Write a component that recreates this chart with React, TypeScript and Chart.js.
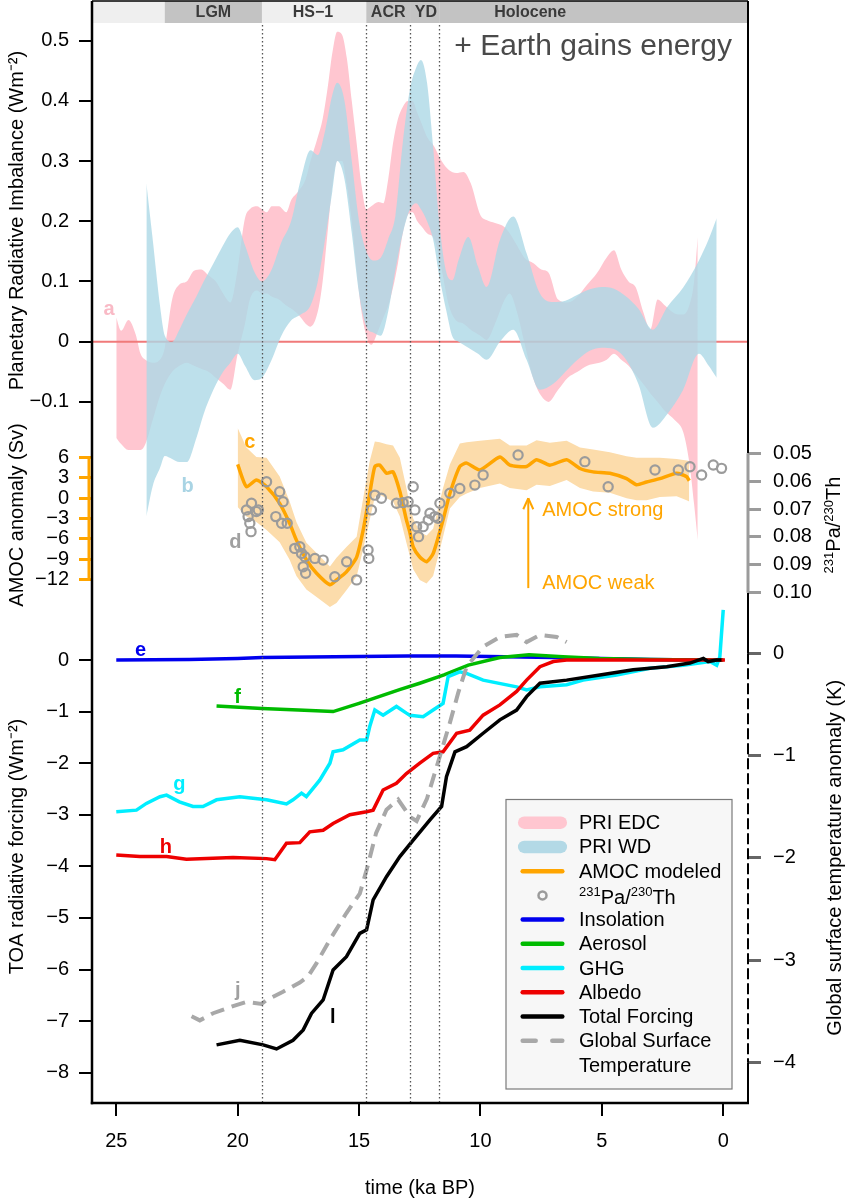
import React, { useEffect, useRef } from 'react';
import { Chart, registerables } from 'chart.js';

Chart.register(...registerables);

const FONT = '"Liberation Sans", Arial, Helvetica, sans-serif';

// ---------------- data (ages in ka BP) ----------------
// Planetary radiative imbalance, EDC reconstruction (band)
const edcAge = [25.0, 24.8, 24.5, 24.2, 24.0, 23.8, 23.5, 23.2, 23.0, 22.7,
  22.4, 22.1, 21.8, 21.5, 21.2, 20.9, 20.6, 20.3, 20.0, 19.7,
  19.5, 19.2, 19.0, 18.8, 18.6, 18.3, 18.0, 17.8, 17.5, 17.2,
  17.0, 16.7, 16.5, 16.3, 16.1, 15.9, 15.7, 15.5, 15.3, 15.1,
  14.9, 14.7, 14.5, 14.2, 14.0, 13.8, 13.6, 13.4, 13.2, 13.0,
  12.8, 12.6, 12.4, 12.2, 11.9, 11.6, 11.3, 11.0, 10.7, 10.4,
  10.0, 9.75, 9.4, 9.0, 8.8, 8.5, 8.2, 7.8, 7.5, 7.2,
  6.8, 6.4, 6.0, 5.6, 5.2, 4.8, 4.5, 4.2, 3.9, 3.6,
  3.3, 3.0, 2.7, 2.4, 2.0, 1.65, 1.4, 1.2, 1.05];
const edcHigh = [0.040, 0.018, 0.036, 0.012, -0.020, -0.030, -0.035, -0.030, -0.010, 0.070,
  0.095, 0.100, 0.118, 0.120, 0.110, 0.100, 0.080, 0.065, 0.120, 0.205,
  0.220, 0.225, 0.220, 0.215, 0.225, 0.225, 0.215, 0.235, 0.250, 0.270,
  0.300, 0.340, 0.370, 0.420, 0.480, 0.515, 0.510, 0.470, 0.400, 0.330,
  0.260, 0.220, 0.225, 0.232, 0.230, 0.270, 0.330, 0.370, 0.390, 0.400,
  0.400, 0.380, 0.360, 0.340, 0.324, 0.300, 0.285, 0.280, 0.282, 0.263,
  0.210, 0.202, 0.197, 0.190, 0.180, 0.160, 0.140, 0.130, 0.120, 0.115,
  0.070, 0.065, 0.075, 0.095, 0.114, 0.140, 0.152, 0.120, 0.100, 0.090,
  0.050, 0.020, 0.070, 0.060, 0.047, 0.045, 0.060, 0.100, 0.174];
const edcLow = [-0.160, -0.170, -0.180, -0.180, -0.180, -0.170, -0.130, -0.090, -0.070, -0.050,
  -0.040, -0.035, -0.040, -0.045, -0.050, -0.060, -0.070, -0.080, -0.020, 0.030,
  0.070, 0.085, 0.080, 0.080, 0.075, 0.070, 0.060, 0.055, 0.045, 0.030,
  0.025, 0.050, 0.100, 0.180, 0.260, 0.300, 0.300, 0.260, 0.200, 0.120,
  0.050, 0.010, -0.005, 0.020, 0.040, 0.060, 0.090, 0.130, 0.180, 0.210,
  0.215, 0.200, 0.190, 0.180, 0.170, 0.120, 0.060, 0.035, 0.030, 0.020,
  0.010, 0.003, 0.030, 0.070, 0.080, 0.050, 0.000, -0.064, -0.090, -0.100,
  -0.080, -0.060, -0.050, -0.040, -0.036, -0.030, -0.020, -0.030, -0.040, -0.055,
  -0.070, -0.086, -0.100, -0.115, -0.130, -0.150, -0.200, -0.270, -0.330];

// Planetary radiative imbalance, WD reconstruction (band)
const wdAge = [23.76, 23.5, 23.2, 23.0, 22.7, 22.4, 22.1, 21.7, 21.4, 21.0,
  20.6, 20.3, 20.0, 19.7, 19.3, 19.0, 18.6, 18.2, 17.8, 17.4,
  17.0, 16.7, 16.4, 16.1, 15.9, 15.6, 15.3, 15.0, 14.7, 14.4,
  14.1, 13.8, 13.5, 13.2, 12.9, 12.65, 12.45, 12.2, 11.95, 11.7,
  11.4, 11.15, 10.9, 10.5, 10.1, 9.75, 9.2, 8.65, 8.1, 7.55,
  7.0, 6.5, 6.0, 5.5, 5.0, 4.5, 4.0, 3.5, 2.9, 2.3,
  1.65, 1.0, 0.6, 0.27];
const wdHigh = [0.263, 0.170, 0.060, 0.010, 0.000, 0.020, 0.045, 0.075, 0.100, 0.130,
  0.160, 0.180, 0.190, 0.160, 0.115, 0.100, 0.120, 0.165, 0.200, 0.270,
  0.318, 0.310, 0.350, 0.410, 0.430, 0.400, 0.300, 0.200, 0.150, 0.135,
  0.140, 0.170, 0.210, 0.330, 0.420, 0.455, 0.468, 0.430, 0.324, 0.200,
  0.114, 0.102, 0.136, 0.174, 0.125, 0.091, 0.169, 0.208, 0.147, 0.080,
  0.066, 0.068, 0.078, 0.087, 0.091, 0.088, 0.075, 0.055, 0.020, 0.058,
  0.090, 0.135, 0.170, 0.205];
const wdLow = [-0.290, -0.240, -0.210, -0.190, -0.195, -0.200, -0.200, -0.160, -0.120, -0.080,
  -0.050, -0.035, -0.020, -0.040, -0.064, -0.060, -0.030, 0.010, 0.035, 0.045,
  0.060, 0.100, 0.170, 0.250, 0.300, 0.270, 0.180, 0.080, 0.025, 0.015,
  0.010, 0.050, 0.120, 0.180, 0.220, 0.230, 0.220, 0.200, 0.170, 0.110,
  0.050, 0.008, 0.000, -0.010, -0.020, -0.030, 0.000, 0.020, -0.030, -0.080,
  -0.070, -0.050, -0.030, -0.015, -0.010, -0.012, -0.030, -0.070, -0.143, -0.120,
  -0.080, -0.020, -0.040, -0.060];

const zeroAge = [26.0, -1.02];
const zeroLine = [0, 0];

// AMOC anomaly (Sv), modeled with uncertainty band
const amocAge = [20.0, 19.64, 19.23, 18.81, 18.27, 17.86, 17.58, 17.17, 16.75, 16.2,
  15.93, 15.52, 15.1, 14.83, 14.56, 14.35, 14.15, 13.87, 13.6, 13.32,
  13.05, 12.91, 12.77, 12.5, 12.22, 11.95, 11.54, 11.26, 10.85, 10.57,
  10.02, 9.2, 8.79, 8.1, 7.69, 7.14, 6.45, 5.9, 5.36, 4.67,
  3.98, 3.57, 3.16, 2.61, 1.92, 1.51, 1.4];
const amocModel = [5.0, 1.7, 2.7, 1.7, -0.75, -3.7, -6.2, -9.1, -11.1, -12.8,
  -12.1, -10.9, -8.7, -4.7, 0.7, 4.7, 4.9, 3.7, 3.9, 1.0,
  -3.2, -5.0, -7.2, -8.7, -9.4, -8.2, -3.2, 0.7, 4.7, 5.2,
  4.2, 6.1, 4.9, 4.7, 5.7, 4.9, 5.7, 4.4, 3.9, 3.7,
  2.9, 2.0, 2.4, 2.9, 3.7, 3.2, 2.6];
const amocLow = [-1.3, -2.7, -3.5, -4.7, -6.5, -9.1, -11.5, -13.5, -14.6, -16.1,
  -15.5, -13.6, -11.6, -7.5, -3.2, 0.2, 0.5, 0.0, -0.5, -2.7,
  -6.6, -8.5, -10.5, -12.1, -12.6, -11.5, -5.7, -1.5, 0.2, 0.7,
  1.5, 2.2, 1.5, 1.2, 2.0, 1.8, 2.7, 1.5, 1.0, 0.8,
  0.0, -0.3, -0.3, 0.2, 0.3, -0.3, -0.5];
const amocHigh = [10.4, 7.5, 6.1, 6.0, 3.2, -0.5, -3.5, -6.6, -8.1, -10.1,
  -8.8, -7.2, -5.7, 0.0, 5.5, 8.4, 8.3, 8.0, 7.8, 6.0,
  1.5, -1.0, -3.0, -5.0, -5.5, -4.5, 1.5, 5.0, 8.1, 8.3,
  8.5, 8.8, 7.8, 7.8, 8.6, 8.2, 8.5, 7.5, 7.2, 6.8,
  6.2, 6.0, 6.0, 6.0, 5.8, 5.6, 5.5];

// 231Pa/230Th proxy
const paAge = [19.64, 19.57, 19.50, 19.45, 19.43, 19.23, 19.15, 18.81, 18.43, 18.27,
  18.19, 18.13, 17.96, 17.65, 17.44, 17.37, 17.30, 17.23, 17.20, 16.82,
  16.48, 16.00, 15.51, 15.10, 14.63, 14.60, 14.49, 14.35, 14.08, 13.46,
  13.19, 12.98, 12.77, 12.70, 12.63, 12.55, 12.36, 12.15, 12.08, 11.88,
  11.75, 11.67, 11.26, 10.85, 10.23, 9.89, 8.45, 5.70, 4.74, 2.81,
  1.85, 1.37, 0.89, 0.41, 0.07];
const paTh = [0.0703, 0.0727, 0.0751, 0.0781, 0.0679, 0.0709, 0.0703, 0.0602, 0.0727, 0.0638,
  0.0751, 0.0674, 0.0751, 0.0841, 0.0835, 0.0859, 0.0907, 0.0871, 0.0930, 0.0877,
  0.0883, 0.0943, 0.0889, 0.0954, 0.0847, 0.0877, 0.0703, 0.0650, 0.0661, 0.0679,
  0.0677, 0.0674, 0.0620, 0.0703, 0.0763, 0.0799, 0.0763, 0.0739, 0.0715, 0.0727,
  0.0733, 0.0679, 0.0643, 0.0626, 0.0614, 0.0578, 0.0506, 0.0530, 0.0620, 0.0560,
  0.0560, 0.0548, 0.0578, 0.0542, 0.0554];

// TOA radiative forcings (W m-2)
const insolAge = [25, 22, 20, 19, 17, 15, 13, 11, 9, 7, 5, 3, 1, 0];
const insolForcing = [0.0, 0.01, 0.03, 0.05, 0.06, 0.07, 0.08, 0.08, 0.065, 0.05, 0.03, 0.01, 0.0, 0.0];

const aerosolAge = [20.87, 19.0, 17.5, 16.07, 15.0, 14.0, 13.3, 12.5, 11.5, 10.5, 9.2, 8.0, 6.6, 5.1, 3.0, 1.0, 0.0];
const aerosolForcing = [-0.89, -0.94, -0.97, -1.0, -0.84, -0.68, -0.57, -0.45, -0.29, -0.10, 0.05, 0.10, 0.065, 0.03, 0.01, 0.0, 0.0];

const ghgAge = [25.0, 24.17, 23.76, 23.2, 22.93, 22.4, 21.84, 21.43, 20.87, 19.91,
  19.37, 18.81, 17.99, 17.72, 17.37, 17.17, 16.62, 16.2, 16.07, 15.66,
  14.97, 14.69, 14.56, 14.35, 14.01, 13.46, 13.05, 12.91, 12.36, 11.95,
  11.54, 11.33, 10.85, 10.57, 9.89, 8.51, 8.1, 7.55, 6.45, 5.77,
  4.39, 3.02, 1.65, 0.55, 0.27, 0.14, 0.0];
const ghgForcing = [-2.94, -2.91, -2.78, -2.65, -2.62, -2.75, -2.84, -2.84, -2.71, -2.65,
  -2.68, -2.71, -2.79, -2.71, -2.58, -2.65, -2.33, -2.0, -1.78, -1.74,
  -1.55, -1.55, -1.29, -0.97, -1.07, -0.9, -1.03, -1.07, -1.1, -0.97,
  -0.84, -0.32, -0.23, -0.26, -0.39, -0.52, -0.58, -0.52, -0.48, -0.39,
  -0.29, -0.16, -0.1, -0.03, -0.1, 0.06, 0.97];

const albedoAge = [25.0, 24.03, 22.93, 22.11, 20.19, 18.81, 18.47, 17.99, 17.44, 17.03,
  16.48, 16.07, 15.38, 14.69, 14.42, 14.01, 13.46, 13.05, 12.5, 11.95,
  11.54, 10.98, 10.44, 9.89, 9.2, 8.51, 8.1, 7.55, 7.0, 6.45,
  5.08, 2.0, -0.07];
const albedoForcing = [-3.78, -3.81, -3.81, -3.86, -3.83, -3.85, -3.87, -3.55, -3.54, -3.33,
  -3.3, -3.17, -3.0, -2.94, -2.91, -2.52, -2.39, -2.2, -2.0, -1.81,
  -1.78, -1.42, -1.36, -1.07, -0.87, -0.61, -0.39, -0.13, -0.03, 0.0,
  0.0, 0.0, 0.0];

const totalAge = [20.87, 19.91, 18.95, 18.4, 17.72, 17.3, 16.96, 16.48, 16.07, 15.52,
  14.97, 14.69, 14.42, 13.87, 13.32, 12.77, 12.08, 11.6, 11.4, 11.05,
  10.57, 9.89, 9.2, 8.51, 8.1, 7.55, 6.45, 5.08, 3.71, 2.33,
  1.37, 0.82, 0.62, 0.27, 0.07];
const totalForcing = [-7.46, -7.37, -7.46, -7.54, -7.37, -7.17, -6.85, -6.59, -6.01, -5.75,
  -5.3, -5.23, -4.65, -4.2, -3.81, -3.49, -3.1, -2.84, -2.26, -1.78,
  -1.68, -1.42, -1.16, -0.97, -0.71, -0.45, -0.39, -0.29, -0.19, -0.13,
  -0.06, 0.03, -0.03, 0.0, 0.0];

// Global surface temperature anomaly (K)
const gstAge = [21.9, 21.56, 21.01, 20.19, 19.64, 19.02, 18.81, 18.13, 17.44, 17.1,
  16.75, 16.2, 15.52, 14.97, 14.69, 14.3, 13.87, 13.39, 12.9, 12.63,
  12.2, 11.88, 11.6, 11.26, 10.92, 10.57, 9.89, 9.2, 8.51, 8.1,
  7.55, 6.86, 6.45];
const gstAnomaly = [-3.55, -3.59, -3.52, -3.45, -3.41, -3.43, -3.39, -3.31, -3.22, -3.16,
  -3.03, -2.8, -2.54, -2.35, -2.12, -1.76, -1.53, -1.43, -1.6, -1.64,
  -1.42, -1.17, -0.95, -0.68, -0.39, -0.13, 0.065, 0.16, 0.18, 0.11,
  0.18, 0.16, 0.11];

// ticks
const timeTicks = [25, 20, 15, 10, 5, 0];
const priTicks = [0.5, 0.4, 0.3, 0.2, 0.1, 0, -0.1];
const amocTicks = [6, 3, 0, -3, -6, -9, -12];
const toaTicks = [0, -1, -2, -3, -4, -5, -6, -7, -8];
const paTicks = [0.05, 0.06, 0.07, 0.08, 0.09, 0.10];
const gstTicks = [0, -1, -2, -3, -4];

// climate periods (header strip)
const periodNames = ['LGM', 'HS\u22121', 'ACR', 'YD', 'Holocene'];
const periodFrom = [23.0, 19.0, 14.7, 12.9, 11.7];
const periodTo = [19.0, 14.7, 12.9, 11.7, -1.02];
const periodLabelAge = [21.0, 16.9, 13.8, 12.25, 7.95];
const boundaryAges = [19.0, 14.7, 12.9, 11.7];

// ---------------- styles ----------------
const periodFill = ['#c3c3c3', '#efefef', '#c3c3c3', '#c3c3c3', '#c3c3c3'];
const COL = {
  edc: '#ffc6d0',
  wd: 'rgba(173,216,230,0.8)',
  wdKey: '#b3d9e6',
  zero: '#f07a7a',
  amoc: '#ffa500',
  amocBand: '#fcdcab',
  pa: '#9b9b9b',
  insol: '#0000ee',
  aerosol: '#00bb00',
  ghg: '#00eeff',
  albedo: '#ee0000',
  total: '#000000',
  gst: '#a8a8a8',
};

const pts = (xs: number[], ys: number[]) => xs.map((x, i) => ({ x, y: ys[i] }));
const fmtTick = (v: number, digits: number) =>
  Math.abs(v) < 1e-9 ? '0' : v.toFixed(digits).replace('-', '\u2212');
const setTicks = (vals: number[]) => (scale: any) => {
  scale.ticks = vals.map((v) => ({ value: v }));
};
const fixWidth = (w: number) => (s: any) => {
  s.width = w;
  s.paddingTop = 0;
  s.paddingBottom = 0;
};

function drawParts(ctx: any, parts: [string, boolean][], x: number, y: number, size: number, supSize: number, align: 'left' | 'center') {
  let total = 0;
  const widths = parts.map(([t, sup]) => {
    ctx.font = `${sup ? supSize : size}px ${FONT}`;
    const w = ctx.measureText(t).width;
    total += w;
    return w;
  });
  let cx = align === 'center' ? x - total / 2 : x;
  ctx.textAlign = 'left';
  ctx.textBaseline = 'alphabetic';
  const base = y + 0.36 * size;
  parts.forEach(([t, sup], i) => {
    ctx.font = `${sup ? supSize : size}px ${FONT}`;
    ctx.fillText(t, cx, sup ? base - 0.36 * size : base);
    cx += widths[i];
  });
}

const decor = {
  id: 'decor',
  afterDatasetsDraw(chart: any) {
    const { ctx, chartArea: ca, scales } = chart;
    const sx = scales.x;
    const hTop = ca.top;
    const hBot = ca.top + 22;
    ctx.save();
    ctx.fillStyle = '#efefef';
    ctx.fillRect(ca.left, hTop, ca.right - ca.left, hBot - hTop);
    periodFrom.forEach((a, i) => {
      const xa = sx.getPixelForValue(a);
      const xb = sx.getPixelForValue(periodTo[i]);
      ctx.fillStyle = periodFill[i];
      ctx.fillRect(xa, hTop, xb - xa, hBot - hTop);
    });
    ctx.fillStyle = '#3a3a3a';
    ctx.font = `bold 16px ${FONT}`;
    ctx.textAlign = 'center';
    ctx.textBaseline = 'middle';
    periodNames.forEach((n, i) => ctx.fillText(n, sx.getPixelForValue(periodLabelAge[i]), (hTop + hBot) / 2 + 1));
    ctx.strokeStyle = '#555';
    ctx.lineWidth = 1.3;
    ctx.setLineDash([1.5, 2.5]);
    boundaryAges.forEach((a) => {
      const px = Math.round(sx.getPixelForValue(a)) + 0.5;
      ctx.beginPath();
      ctx.moveTo(px, hBot + 2);
      ctx.lineTo(px, ca.bottom);
      ctx.stroke();
    });
    ctx.restore();
  },
  afterDraw(chart: any) {
    const { ctx, chartArea: ca, scales } = chart;
    const sx = scales.x, sP = scales.yPRI, sA = scales.yAMOC, sT = scales.yTOA, sPa = scales.yPa, sG = scales.yGST;
    const seg = (x1: number, y1: number, x2: number, y2: number) => {
      ctx.beginPath();
      ctx.moveTo(x1, y1);
      ctx.lineTo(x2, y2);
      ctx.stroke();
    };
    ctx.save();
    // frame
    ctx.strokeStyle = '#000';
    ctx.lineWidth = 1.5;
    seg(ca.left, ca.top, ca.right, ca.top);
    ctx.lineWidth = 2.5;
    seg(ca.left, ca.top, ca.left, ca.bottom + 1.2);
    seg(ca.left - 1.2, ca.bottom, ca.right + 1, ca.bottom);
    const paTop = sPa.getPixelForValue(paTicks[0]);
    const paBot = sPa.getPixelForValue(paTicks[paTicks.length - 1]);
    const gTop = sG.getPixelForValue(gstTicks[0]);
    const gBot = sG.getPixelForValue(gstTicks[gstTicks.length - 1]);
    ctx.lineWidth = 2;
    seg(ca.right, ca.top, ca.right, paTop);
    seg(ca.right, paBot, ca.right, gTop);
    seg(ca.right, gBot, ca.right, ca.bottom);
    ctx.setLineDash([11, 4]);
    seg(ca.right, gTop, ca.right, gBot);
    ctx.setLineDash([]);
    ctx.strokeStyle = COL.pa;
    ctx.lineWidth = 3;
    seg(ca.right, paTop, ca.right, paBot);
    ctx.strokeStyle = COL.amoc;
    seg(ca.left - 3, sA.getPixelForValue(amocTicks[0]), ca.left - 3, sA.getPixelForValue(amocTicks[amocTicks.length - 1]));

    // panel letters
    ctx.font = `bold 20px ${FONT}`;
    ctx.textAlign = 'center';
    ctx.textBaseline = 'middle';
    const letter = (t: number, s: any, v: number, txt: string, color: string) => {
      ctx.fillStyle = color;
      ctx.fillText(txt, sx.getPixelForValue(t), s.getPixelForValue(v));
    };
    letter(25.3, sP, 0.053, 'a', '#f9bac6');
    letter(22.06, sA, 1.8, 'b', '#a9d4e4');
    letter(19.5, sA, 8.2, 'c', COL.amoc);
    letter(20.1, sA, -6.6, 'd', '#a0a0a0');
    letter(24.0, sT, 0.19, 'e', COL.insol);
    letter(20.0, sT, -0.72, 'f', COL.aerosol);
    letter(22.4, sT, -2.42, 'g', COL.ghg);
    letter(22.96, sT, -3.64, 'h', COL.albedo);
    letter(20.0, sT, -6.4, 'j', '#a0a0a0');
    letter(16.08, sT, -6.92, 'l', '#000');

    // AMOC strong / weak arrow
    const ax = sx.getPixelForValue(8.03);
    const tipY = sA.getPixelForValue(0.0);
    const baseY = sA.getPixelForValue(-13.3);
    ctx.strokeStyle = COL.amoc;
    ctx.lineWidth = 2;
    seg(ax, baseY, ax, tipY);
    seg(ax - 5, tipY + 11, ax, tipY);
    seg(ax + 5, tipY + 11, ax, tipY);
    ctx.fillStyle = COL.amoc;
    ctx.font = `20px ${FONT}`;
    ctx.textAlign = 'left';
    ctx.textBaseline = 'alphabetic';
    ctx.fillText('AMOC strong', ax + 14, sA.getPixelForValue(-2.6));
    ctx.fillText('AMOC weak', ax + 14, sA.getPixelForValue(-13.4));

    // headline
    ctx.fillStyle = '#4a4a4a';
    ctx.font = `30px ${FONT}`;
    ctx.textAlign = 'right';
    ctx.fillText('+ Earth gains energy', ca.right - 16, ca.top + 54);

    // right-hand axis titles (read bottom to top)
    ctx.fillStyle = '#000';
    ctx.save();
    ctx.translate(chart.width - 12, (paTop + paBot) / 2 + 2);
    ctx.rotate(-Math.PI / 2);
    drawParts(ctx, [['231', true], ['Pa/', false], ['230', true], ['Th', false]], 0, 0, 20, 13, 'center');
    ctx.restore();
    ctx.save();
    ctx.translate(chart.width - 10, (gTop + gBot) / 2);
    ctx.rotate(-Math.PI / 2);
    ctx.font = `20px ${FONT}`;
    ctx.textAlign = 'center';
    ctx.textBaseline = 'middle';
    ctx.fillText('Global surface temperature anomaly (K)', 0, 0);
    ctx.restore();

    // legend
    const lx = ca.right - 242;
    const ly = ca.bottom - 303.5;
    const lw = 226;
    const lh = 289.5;
    ctx.fillStyle = '#f7f7f7';
    ctx.fillRect(lx, ly, lw, lh);
    ctx.strokeStyle = '#7a7a7a';
    ctx.lineWidth = 1.2;
    ctx.strokeRect(lx, ly, lw, lh);
    const rowY = (i: number) => ly + 23.2 + i * 24.23;
    const sx1 = lx + 16.7;
    const sx2 = lx + 56.3;
    const tx = lx + 73;
    ctx.lineCap = 'round';
    const keyLine = (i: number, color: string, w: number, inset = 0) => {
      ctx.strokeStyle = color;
      ctx.lineWidth = w;
      seg(sx1 + inset, rowY(i), sx2 - inset, rowY(i));
    };
    keyLine(0, COL.edc, 12.5, 1.5);
    keyLine(1, COL.wdKey, 12.5, 1.5);
    keyLine(2, COL.amoc, 4.5);
    ctx.strokeStyle = COL.pa;
    ctx.lineWidth = 2.5;
    ctx.beginPath();
    ctx.arc((sx1 + sx2) / 2, rowY(3), 4, 0, Math.PI * 2);
    ctx.stroke();
    keyLine(4, COL.insol, 4.5);
    keyLine(5, COL.aerosol, 4.5);
    keyLine(6, COL.ghg, 4.5);
    keyLine(7, COL.albedo, 4.5);
    keyLine(8, COL.total, 4.5);
    ctx.strokeStyle = COL.gst;
    ctx.lineWidth = 4.5;
    seg(sx1, rowY(9), sx1 + 13, rowY(9));
    seg(sx2 - 10, rowY(9), sx2, rowY(9));
    ctx.lineCap = 'butt';
    ctx.fillStyle = '#000';
    ctx.font = `20px ${FONT}`;
    ctx.textAlign = 'left';
    ctx.textBaseline = 'middle';
    const texts = ['PRI EDC', 'PRI WD', 'AMOC modeled', '', 'Insolation', 'Aerosol', 'GHG', 'Albedo', 'Total Forcing', 'Global Surface', 'Temperature'];
    texts.forEach((t, i) => { if (t) ctx.fillText(t, tx, rowY(i) + 1); });
    drawParts(ctx, [['231', true], ['Pa/', false], ['230', true], ['Th', false]], tx, rowY(3) + 1, 20, 13, 'left');
    ctx.restore();
  },
};

export default function App() {
  const ref = useRef<HTMLCanvasElement>(null);

  useEffect(() => {
    const tickFont = { family: FONT, size: 20 };
    const titleFont = { family: FONT, size: 20 };
    const yAxis = (o: any) => ({
      type: 'linear',
      bounds: 'data',
      border: { display: false },
      ticks: { autoSkip: false, font: tickFont, color: '#000', padding: 10 },
      grid: { drawOnChartArea: false, drawTicks: true, tickLength: 13, lineWidth: 2, color: '#000' },
      ...o,
    });
    const lineDs = (data: any, yAxisID: string, color: string, width: number, order: number, extra: any = {}) => ({
      type: 'line',
      data,
      yAxisID,
      xAxisID: 'x',
      borderColor: color,
      borderWidth: width,
      pointRadius: 0,
      fill: false,
      clip: false,
      tension: 0,
      order,
      ...extra,
    });
    const bandEdge = { borderWidth: 0, cubicInterpolationMode: 'monotone' };

    const chart = new Chart(ref.current as HTMLCanvasElement, {
      type: 'line',
      data: {
        datasets: [
          lineDs(pts(edcAge, edcLow), 'yPRI', COL.edc, 0, 30, bandEdge),
          lineDs(pts(edcAge, edcHigh), 'yPRI', COL.edc, 0, 29, { ...bandEdge, fill: '-1', backgroundColor: COL.edc }),
          lineDs(pts(zeroAge, zeroLine), 'yPRI', COL.zero, 2, 28),
          lineDs(pts(wdAge, wdLow), 'yPRI', COL.wd, 0, 27, bandEdge),
          lineDs(pts(wdAge, wdHigh), 'yPRI', COL.wd, 0, 26, { ...bandEdge, fill: '-1', backgroundColor: COL.wd }),
          lineDs(pts(amocAge, amocLow), 'yAMOC', COL.amocBand, 0, 25),
          lineDs(pts(amocAge, amocHigh), 'yAMOC', COL.amocBand, 0, 24, { fill: '-1', backgroundColor: COL.amocBand }),
          lineDs(pts(amocAge, amocModel), 'yAMOC', COL.amoc, 3.5, 23, { tension: 0.2 }),
          lineDs(pts(paAge, paTh), 'yPa', COL.pa, 0, 22, {
            showLine: false, pointRadius: 4.6, pointBorderWidth: 2.2, pointBorderColor: COL.pa,
            pointBackgroundColor: 'rgba(255,255,255,0)', pointStyle: 'circle',
          }),
          lineDs(pts(insolAge, insolForcing), 'yTOA', COL.insol, 3.5, 21),
          lineDs(pts(aerosolAge, aerosolForcing), 'yTOA', COL.aerosol, 3.5, 20),
          lineDs(pts(ghgAge, ghgForcing), 'yTOA', COL.ghg, 3.5, 19),
          lineDs(pts(albedoAge, albedoForcing), 'yTOA', COL.albedo, 3.5, 18),
          lineDs(pts(gstAge, gstAnomaly), 'yGST', COL.gst, 4, 17, { borderDash: [14, 8] }),
          lineDs(pts(totalAge, totalForcing), 'yTOA', COL.total, 3.5, 16),
        ],
      },
      options: {
        responsive: false,
        animation: false,
        devicePixelRatio: 1,
        events: [],
        layout: { autoPadding: false, padding: { top: 1, left: 0, right: 0, bottom: 0 } },
        plugins: { legend: { display: false }, tooltip: { enabled: false }, title: { display: false } },
        scales: {
          x: {
            type: 'linear',
            position: 'bottom',
            min: -1.02,
            max: 26.0,
            reverse: true,
            bounds: 'data',
            afterBuildTicks: setTicks(timeTicks),
            afterFit: (s: any) => { s.height = 97; s.paddingLeft = 0; s.paddingRight = 0; },
            border: { display: false },
            ticks: { autoSkip: false, maxRotation: 0, padding: 13, font: tickFont, color: '#000', callback: (v: any) => fmtTick(v, 0) },
            grid: { drawOnChartArea: false, drawTicks: true, tickLength: 13, lineWidth: 2, color: '#000' },
            title: { display: true, text: 'time (ka BP)', font: titleFont, color: '#000', padding: { top: 0, bottom: 0 } },
          },
          yPRI: yAxis({
            position: 'left', stack: 'L', stackWeight: 439, weight: 3,
            min: -0.1633, max: 0.5659,
            afterBuildTicks: setTicks(priTicks),
            afterFit: fixWidth(92),
            ticks: { autoSkip: false, font: tickFont, color: '#000', padding: 10, callback: (v: any) => fmtTick(v, 1) },
            title: { display: true, text: 'Planetary Radiative Imbalance (Wm\u207B\u00B2)', font: titleFont, color: '#000', padding: { top: 5, bottom: 0 } },
          }),
          yAMOC: yAxis({
            position: 'left', stack: 'L', stackWeight: 150, weight: 2,
            min: -13.58, max: 8.62,
            afterBuildTicks: setTicks(amocTicks),
            afterFit: fixWidth(92),
            ticks: { autoSkip: false, font: tickFont, color: '#000', padding: 10, callback: (v: any) => fmtTick(v, 0) },
            grid: { drawOnChartArea: false, drawTicks: true, tickLength: 13, lineWidth: 3, color: COL.amoc },
            title: { display: true, text: 'AMOC anomaly (Sv)', font: titleFont, color: '#000', padding: { top: 5, bottom: 0 } },
          }),
          yTOA: yAxis({
            position: 'left', stack: 'L', stackWeight: 513, weight: 1,
            min: -8.587, max: 1.357,
            afterBuildTicks: setTicks(toaTicks),
            afterFit: fixWidth(92),
            ticks: { autoSkip: false, font: tickFont, color: '#000', padding: 10, callback: (v: any) => fmtTick(v, 0) },
            title: { display: true, text: 'TOA radiative forcing (Wm\u207B\u00B2)', font: titleFont, color: '#000', padding: { top: 5, bottom: 0 } },
          }),
          yPa: yAxis({
            position: 'right', stack: 'R', stackWeight: 609, weight: 1,
            min: -0.11223, max: 0.1062, reverse: true,
            afterBuildTicks: setTicks(paTicks),
            afterFit: fixWidth(97),
            ticks: { autoSkip: false, font: tickFont, color: '#000', padding: 12, callback: (v: any) => fmtTick(v, 2) },
            grid: { drawOnChartArea: false, drawTicks: true, tickLength: 13, lineWidth: 3, color: COL.pa },
          }),
          yGST: yAxis({
            position: 'right', stack: 'R', stackWeight: 493, weight: 2,
            min: -4.398, max: 0.4235,
            afterBuildTicks: setTicks(gstTicks),
            afterFit: fixWidth(97),
            ticks: { autoSkip: false, font: tickFont, color: '#000', padding: 12, callback: (v: any) => fmtTick(v, 0) },
            grid: { drawOnChartArea: false, drawTicks: true, tickLength: 13, lineWidth: 3, color: '#666' },
          }),
        },
      },
      plugins: [decor],
    } as any);

    return () => chart.destroy();
  }, []);

  return (
    <div style={{ position: 'absolute', left: 0, top: 0, width: 845, height: 1200, background: '#fff' }}>
      <canvas ref={ref} width={845} height={1200} style={{ display: 'block', width: 845, height: 1200 }} />
    </div>
  );
}
